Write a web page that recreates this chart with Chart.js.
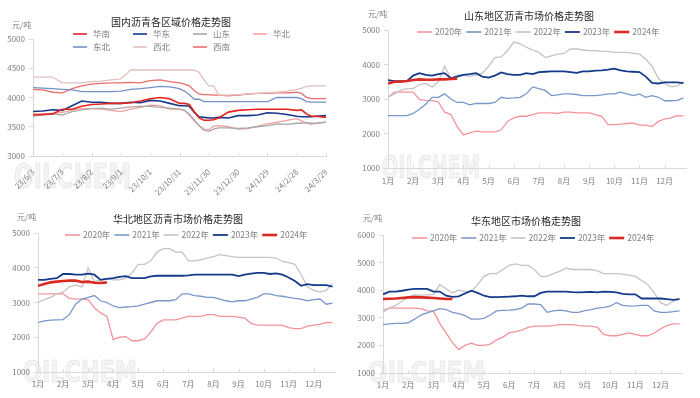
<!DOCTYPE html>
<html><head><meta charset="utf-8">
<script src="https://cdn.jsdelivr.net/npm/chart.js@4/dist/chart.umd.min.js"></script>
<style>
html,body{margin:0;padding:0;background:#fff;}
#wrap{position:relative;width:700px;height:398px;overflow:hidden;}
.pane{position:absolute;width:350px;height:199px;}
canvas{display:block;}
</style></head><body>
<div id="wrap">
<div class="pane" style="left:0;top:0"><canvas id="c1" width="350" height="199"></canvas></div>
<div class="pane" style="left:350px;top:0"><canvas id="c2" width="350" height="199"></canvas></div>
<div class="pane" style="left:0;top:199px"><canvas id="c3" width="350" height="199"></canvas></div>
<div class="pane" style="left:350px;top:199px"><canvas id="c4" width="350" height="199"></canvas></div>
</div>
<script>
// ---------- Panel 1: regional prices (days since 23/6/3) ----------
const regionDays = [0,10,20,30,40,50,60,70,80,90,100,110,120,130,140,150,155,160,165,170,175,180,185,190,200,210,220,230,240,250,260,270,275,280,285,290,300];
const dateTickDays = [0,30,60,90,120,150,180,210,240,270,300];
const dateLabels = ['23/6/3','23/7/3','23/8/2','23/9/1','23/10/1','23/10/31','23/11/30','23/12/30','24/1/29','24/2/28','24/3/29'];
const regionNames = ['华南','华东','山东','华北','东北','西北','西南'];
const huanan  = [3700,3710,3720,3800,3800,3850,3880,3890,3900,3900,3910,3940,3980,4000,3980,3900,3900,3880,3760,3650,3610,3610,3620,3650,3750,3780,3790,3800,3800,3800,3800,3780,3790,3720,3680,3680,3660];
const huadong = [3760,3770,3790,3780,3860,3940,3920,3920,3900,3900,3920,3910,3950,3940,3900,3860,3860,3850,3750,3670,3660,3650,3650,3660,3650,3690,3690,3700,3740,3730,3710,3680,3670,3670,3670,3680,3690];
const shandong= [3680,3700,3720,3700,3760,3790,3810,3820,3800,3820,3840,3850,3850,3830,3820,3800,3780,3720,3620,3520,3440,3420,3460,3480,3480,3470,3480,3500,3520,3550,3540,3560,3560,3570,3560,3560,3580];
const huabei  = [3720,3720,3730,3740,3790,3810,3810,3800,3780,3760,3800,3830,3870,3860,3800,3800,3780,3700,3600,3520,3460,3450,3510,3520,3500,3460,3470,3510,3550,3580,3610,3640,3600,3560,3540,3560,3580];
const dongbei = [4170,4160,4150,4140,4130,4100,4100,4100,4100,4110,4140,4150,4170,4190,4180,4150,4110,4050,3970,3970,3930,3930,3930,3930,3930,3930,3930,3930,3930,4000,4000,4000,3980,3930,3920,3920,3920];
const xibei   = [4350,4350,4350,4250,4250,4250,4270,4280,4300,4320,4470,4470,4470,4470,4470,4470,4470,4470,4470,4430,4300,4200,4200,4040,4040,4050,4060,4070,4080,4090,4110,4140,4160,4190,4200,4200,4200];
const xinan   = [4140,4130,4090,4080,4150,4200,4230,4240,4250,4250,4260,4250,4290,4300,4270,4250,4230,4200,4120,4060,4050,4050,4040,4040,4030,4040,4060,4070,4070,4080,4080,4090,4070,4000,3980,3980,3980];
const regionTicks = [3000,3500,4000,4500,5000];

// ---------- Panels 2-4: yearly curves (month position, 0 = 1月) ----------
const monthPos = [0,0.25,0.5,0.75,1,1.25,1.5,1.75,2,2.25,2.5,2.75,3,3.25,3.5,3.75,4,4.25,4.5,4.75,5,5.25,5.5,5.75,6,6.25,6.5,6.75,7,7.25,7.5,7.75,8,8.25,8.5,8.75,9,9.25,9.5,9.75,10,10.25,10.5,10.75,11,11.25,11.5,11.75];
const monthTicks = [0,1,2,3,4,5,6,7,8,9,10,11];
const monthLabels = ['1月','2月','3月','4月','5月','6月','7月','8月','9月','10月','11月','12月'];
const yearNames = ['2020年','2021年','2022年','2023年','2024年'];

// 山东
const sd2020 = [3050,3200,3200,3200,3200,2990,2960,2950,2920,2620,2550,2200,1960,2020,2070,2050,2050,2050,2100,2350,2450,2500,2500,2550,2600,2600,2600,2580,2620,2620,2600,2600,2600,2550,2500,2260,2260,2270,2290,2300,2240,2240,2200,2350,2420,2450,2520,2510];
const sd2021 = [2520,2520,2520,2520,2580,2700,2850,3050,3050,3150,3000,2900,2900,2830,2870,2870,2870,2900,3050,3020,3030,3050,3150,3350,3300,3250,3100,3120,3150,3150,3130,3100,3100,3100,3120,3150,3150,3200,3150,3100,3150,3050,3100,3050,2950,2950,2960,3030];
const sd2022 = [3050,3150,3250,3300,3300,3420,3450,3350,3500,3950,3600,3700,3700,3650,3700,3750,3950,4200,4220,4400,4650,4600,4500,4420,4350,4200,4250,4300,4320,4450,4450,4420,4400,4400,4380,4380,4350,4350,4350,4320,4300,4150,3950,3600,3450,3350,3380,3500];
const sd2023 = [3550,3520,3520,3520,3680,3750,3700,3680,3720,3750,3600,3650,3700,3720,3750,3650,3620,3680,3770,3720,3700,3700,3750,3720,3780,3790,3800,3800,3800,3780,3760,3800,3800,3820,3830,3850,3880,3830,3800,3790,3780,3650,3470,3450,3480,3480,3480,3460];
const sd2024 = [3450,3500,3500,3520,3550,3570,3560,3560,3570,3570,3580,3590];

// 华北
const hb2020 = [3250,3250,3250,3250,3250,3120,3100,3100,3080,2850,2700,2600,1930,2000,2020,1900,1900,1950,2150,2400,2500,2500,2500,2550,2600,2600,2600,2650,2650,2600,2600,2600,2580,2550,2400,2350,2350,2350,2350,2350,2280,2250,2250,2320,2350,2370,2430,2420];
const hb2021 = [2420,2470,2490,2500,2510,2650,2950,3100,3150,3200,3050,3000,2900,2850,2870,2880,2900,2950,3000,3050,3050,3050,3080,3250,3250,3200,3180,3150,3150,3100,3050,3020,3050,3050,3100,3150,3250,3250,3200,3180,3150,3120,3100,3050,3080,3100,2950,2980];
const hb2022 = [3000,3080,3150,3250,3300,3450,3500,3450,4000,3600,3650,3700,3650,3650,3700,3850,4100,4100,4200,4450,4550,4550,4450,4450,4200,4200,4230,4280,4320,4380,4350,4320,4300,4300,4300,4300,4300,4300,4280,4180,4150,4100,3800,3450,3350,3300,3350,3550];
const hb2023 = [3650,3650,3680,3700,3820,3820,3800,3800,3830,3800,3650,3680,3700,3740,3760,3700,3700,3700,3750,3770,3770,3770,3770,3770,3780,3800,3800,3800,3800,3800,3800,3800,3760,3800,3830,3850,3850,3820,3840,3800,3720,3620,3480,3530,3500,3500,3500,3460];
const hb2024 = [3480,3530,3580,3600,3620,3630,3630,3590,3600,3570,3560,3580];

// 华东
const hd2020 = [3280,3350,3350,3350,3350,3350,3330,3250,3230,2800,2450,2100,1850,2000,2080,2000,2000,2050,2200,2300,2450,2500,2550,2650,2700,2700,2700,2720,2750,2750,2750,2720,2700,2700,2650,2400,2350,2350,2400,2450,2400,2350,2350,2450,2600,2720,2780,2780];
const hd2021 = [2750,2780,2800,2800,2820,2950,3100,3180,3250,3330,3300,3200,3150,3080,2950,2950,2980,3100,3250,3270,3280,3300,3350,3500,3500,3480,3200,3250,3280,3250,3200,3200,3260,3300,3350,3380,3420,3550,3450,3420,3430,3450,3450,3250,3200,3200,3220,3250];
const hd2022 = [3200,3350,3450,3600,3750,3830,3820,3830,3850,4200,4050,3900,4000,3950,3950,4200,4500,4600,4600,4750,4900,4950,4900,4900,4750,4500,4500,4600,4680,4800,4750,4750,4750,4750,4700,4600,4600,4600,4580,4550,4500,4350,4200,3900,3550,3450,3600,3700];
const hd2023 = [3850,3950,3950,3980,4020,4050,4050,4050,3950,3950,3800,3760,3780,3880,3980,3900,3800,3750,3750,3760,3770,3780,3800,3780,3780,3900,3950,3950,3950,3950,3930,3920,3930,3940,3920,3950,3940,3920,3870,3850,3850,3700,3700,3700,3700,3680,3650,3680];
const hd2024 = [3680,3690,3700,3720,3740,3750,3740,3730,3720,3700,3680,3680];

// ---------- styling ----------
const FONT = '"Noto Sans CJK SC", "Noto Sans", sans-serif';
const TICK_COLOR = '#7f7f7f';
const AXIS_COLOR = '#d9d9d9';
const regionColors = ['#e5231c','#17398a','#a8a8a8','#f3a0a0','#7592c8','#e3c0c0','#eb6d6a'];
const regionWidths = [1.6,1.6,1.3,1.3,1.3,1.3,1.3];
const yearColors = ['#f4939c','#7a97cb','#c4c4c4','#143a8c','#db2a22'];
const yearWidths = [1.3,1.3,1.3,1.8,2.6];

const decor = {
  id: 'decor',
  beforeDraw(chart, args, o) {
    const ctx = chart.ctx;
    if (o.wm) {
      ctx.save();
      ctx.font = 'bold 32px "DejaVu Sans"';
      const w = ctx.measureText('OILCHEM').width;
      ctx.translate(o.wm.x, o.wm.b);
      ctx.scale(o.wm.w / w, o.wm.h / 23.3);
      ctx.textBaseline = 'alphabetic';
      ctx.fillStyle = 'rgba(150,150,150,0.10)';
      ctx.fillText('OILCHEM', 0, 0);
      ctx.lineWidth = 1.2;
      ctx.strokeStyle = 'rgba(150,150,150,0.16)';
      ctx.strokeText('OILCHEM', 0, 0);
      ctx.restore();
    }
  },
  afterDraw(chart, args, o) {
    const ctx = chart.ctx;
    ctx.save();
    const xs = chart.scales.x, area = chart.chartArea;
    ctx.strokeStyle = AXIS_COLOR; ctx.lineWidth = 1;
    xs.ticks.forEach(t => {
      const px = Math.round(xs.getPixelForValue(t.value)) + 0.5;
      ctx.beginPath(); ctx.moveTo(px, area.bottom); ctx.lineTo(px, area.bottom - 3); ctx.stroke();
    });
    ctx.fillStyle = '#262626';
    ctx.font = '10px ' + FONT;
    ctx.textAlign = 'center'; ctx.textBaseline = 'middle';
    ctx.fillText(o.title, o.tx, o.ty);
    ctx.fillStyle = '#7f7f7f';
    ctx.font = '8px ' + FONT;
    ctx.textAlign = 'left';
    ctx.fillText('元/吨', o.ux, o.uy);
    const ds = chart.data.datasets;
    ctx.font = '8.5px ' + FONT;
    ds.forEach((d, i) => {
      const col = i % o.cols, row = Math.floor(i / o.cols);
      const x = o.lx + col * o.pitch, y = o.ly + row * o.rowH;
      ctx.strokeStyle = d.borderColor;
      ctx.lineWidth = Math.max(1.6, d.borderWidth);
      ctx.beginPath(); ctx.moveTo(x, y); ctx.lineTo(x + o.len, y); ctx.stroke();
      ctx.fillStyle = '#7f7f7f';
      ctx.fillText(d.label, x + o.toff, y);
    });
    ctx.restore();
  }
};

function yAxis(min, max, step, width) {
  return {
    min, max,
    ticks: { stepSize: step, font: { family: FONT, size: 8 }, color: TICK_COLOR, padding: 4,
             callback: v => String(v) },
    grid: { display: true, drawOnChartArea: false, drawTicks: true, tickLength: 4, color: AXIS_COLOR },
    border: { color: AXIS_COLOR },
    afterFit: s => { s.width = width; }
  };
}

// Panel 1
const regionSeries = [huanan, huadong, shandong, huabei, dongbei, xibei, xinan];
new Chart(document.getElementById('c1'), {
  type: 'line',
  data: {
    datasets: regionSeries.map((arr, i) => ({
      label: regionNames[i],
      data: regionDays.map((d, j) => ({ x: d, y: arr[j] })),
      borderColor: regionColors[i], borderWidth: regionWidths[i],
      pointRadius: 0, tension: 0, fill: false, order: i === 0 || i === 1 ? 0 : 1
    }))
  },
  options: {
    responsive: false, animation: false,
    layout: { padding: { left: 0, right: 24, top: 39, bottom: 0 } },
    plugins: {
      legend: { display: false }, tooltip: { enabled: false },
      decor: { title: '国内沥青各区域价格走势图', tx: 171, ty: 22, ux: 12, uy: 25,
               lx: 73, ly: 34, cols: 4, pitch: 60, rowH: 13, len: 14, toff: 20,
               wm: { x: 14, b: 188, w: 117, h: 24 } }
    },
    scales: {
      x: {
        type: 'linear', min: 0, max: 300,
        afterBuildTicks: s => { s.ticks = dateTickDays.map(v => ({ value: v })); },
        ticks: { callback: (v, i) => dateLabels[i], minRotation: 45, maxRotation: 45, autoSkip: false,
                 font: { family: FONT, size: 8 }, color: TICK_COLOR, padding: 3 },
        grid: { display: false }, border: { color: AXIS_COLOR },
        afterFit: s => { s.height = 43; }
      },
      y: Object.assign(yAxis(3000, 5000, 500, 33), {
        afterBuildTicks: s => { s.ticks = regionTicks.map(v => ({ value: v })); }
      })
    }
  },
  plugins: [decor]
});

function yearChart(id, series, title, yMin, yMax, lay) {
  new Chart(document.getElementById(id), {
    type: 'line',
    data: {
      datasets: series.map((arr, i) => ({
        label: yearNames[i],
        data: monthPos.map((m, j) => ({ x: m, y: arr[j] })).filter(p => p.y !== undefined),
        borderColor: yearColors[i], borderWidth: yearWidths[i],
        pointRadius: 0, tension: 0, fill: false, order: 10 - i
      }))
    },
    options: {
      responsive: false, animation: false,
      layout: { padding: { left: 0, right: lay.pr, top: lay.pt, bottom: 0 } },
      plugins: {
        legend: { display: false }, tooltip: { enabled: false },
        decor: Object.assign({ title, cols: 5, rowH: 0, len: 15, toff: 18, pitch: 49.3 }, lay.d)
      },
      scales: {
        x: {
          type: 'linear', min: 0, max: 11.85,
          afterBuildTicks: s => { s.ticks = monthTicks.map(v => ({ value: v })); },
          ticks: { callback: (v, i) => monthLabels[i], maxRotation: 0, autoSkip: false,
                   font: { family: FONT, size: 8 }, color: TICK_COLOR, padding: lay.xp },
          grid: { display: false, drawTicks: false }, border: { color: AXIS_COLOR },
          afterFit: s => { s.height = lay.xh; }
        },
        y: yAxis(yMin, yMax, 1000, lay.yw)
      }
    },
    plugins: [decor]
  });
}

yearChart('c2', [sd2020, sd2021, sd2022, sd2023, sd2024], '山东地区沥青市场价格走势图', 1000, 5000,
  { pr: 14, pt: 30, xh: 31, xp: 8, yw: 38,
    d: { tx: 179, ty: 16.5, ux: 18, uy: 14, lx: 67, ly: 32, wm: { x: 32, b: 178, w: 98, h: 23 } } });
yearChart('c3', [hb2020, hb2021, hb2022, hb2023, hb2024], '华北地区沥青市场价格走势图', 1000, 5000,
  { pr: 15, pt: 34, xh: 26, xp: 7, yw: 38,
    d: { tx: 178, ty: 20, ux: 17, uy: 18, lx: 65, ly: 36, wm: { x: 23, b: 183, w: 114, h: 22 } } });
yearChart('c4', [hd2020, hd2021, hd2022, hd2023, hd2024], '华东地区市场价格走势图', 1000, 6000,
  { pr: 18, pt: 36, xh: 25, xp: 7, yw: 33,
    d: { tx: 176, ty: 22, ux: 13, uy: 19, lx: 62, ly: 39, wm: { x: 18, b: 183, w: 117, h: 20 } } });
</script>
</body></html>
